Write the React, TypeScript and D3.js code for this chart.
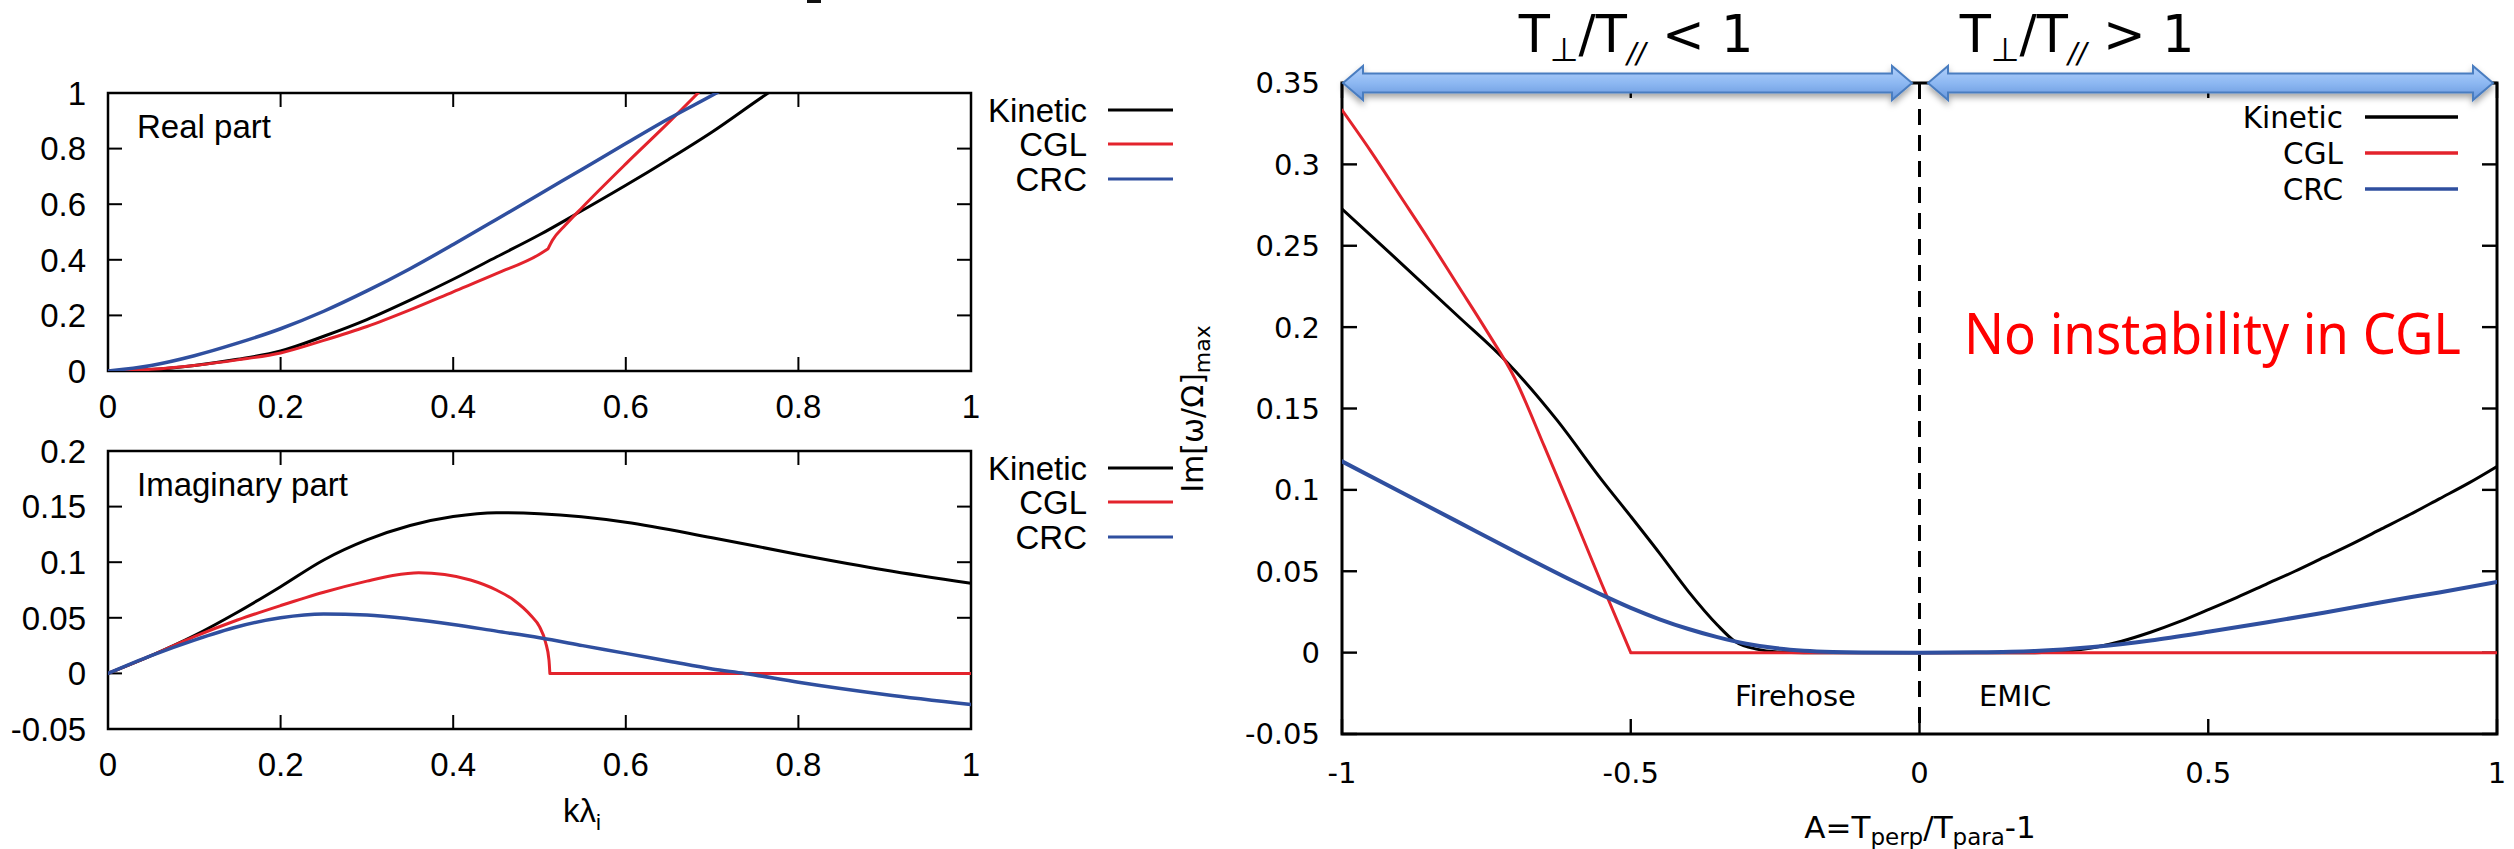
import React, { useEffect } from "react";
import * as d3 from "d3";

type Pt = [number, number];

// ---------- DATA ----------
const seriesNames = ["Kinetic", "CGL", "CRC"];
const seriesColors = ["#000000", "#e3232c", "#2f4f9f"];

const realKinetic: Pt[] = [[0,0],[0.05,0.005],[0.1,0.02],[0.15,0.042],[0.2,0.072],[0.25,0.125],[0.3,0.185],[0.35,0.255],[0.4,0.33],[0.45,0.41],[0.5,0.49],[0.55,0.578],[0.6,0.668],[0.65,0.762],[0.7,0.86],[0.765,1.0],[0.8,1.07]];
const realCGL: Pt[] = [[0,0],[0.05,0.006],[0.1,0.02],[0.15,0.04],[0.2,0.065],[0.25,0.11],[0.3,0.16],[0.35,0.22],[0.4,0.285],[0.45,0.35],[0.5,0.42],[0.51,0.44],[0.515,0.47],[0.53,0.525],[0.55,0.59],[0.6,0.745],[0.65,0.895],[0.69,1.02]];
const realCRC: Pt[] = [[0,0],[0.05,0.02],[0.1,0.055],[0.15,0.1],[0.2,0.152],[0.25,0.215],[0.3,0.288],[0.35,0.368],[0.4,0.455],[0.45,0.545],[0.5,0.636],[0.55,0.727],[0.6,0.818],[0.65,0.908],[0.705,1.0],[0.75,1.08]];

const imagKinetic: Pt[] = [[0,0],[0.05,0.016],[0.1,0.034],[0.15,0.055],[0.2,0.078],[0.25,0.102],[0.3,0.12],[0.35,0.133],[0.4,0.141],[0.45,0.1445],[0.5,0.1435],[0.6,0.136],[0.7,0.122],[0.8,0.107],[0.9,0.093],[1.0,0.081]];
const imagCGL: Pt[] = [[0,0],[0.05,0.016],[0.1,0.033],[0.15,0.048],[0.2,0.061],[0.25,0.073],[0.3,0.083],[0.33,0.088],[0.36,0.0905],[0.39,0.089],[0.42,0.084],[0.45,0.075],[0.47,0.066],[0.49,0.052],[0.5,0.042],[0.507,0.028],[0.511,0.012],[0.512,0],[1.0,0]];
const imagCRC: Pt[] = [[0,0],[0.05,0.016],[0.1,0.03],[0.15,0.042],[0.2,0.05],[0.25,0.0534],[0.3,0.0525],[0.35,0.049],[0.4,0.044],[0.45,0.038],[0.5,0.032],[0.55,0.025],[0.6,0.018],[0.65,0.011],[0.7,0.004],[0.738,0],[0.8,-0.008],[0.9,-0.019],[1.0,-0.028]];

const growthKinetic: Pt[] = [[-1,0.2726],[-0.9,0.24],[-0.8,0.207],[-0.713,0.178],[-0.628,0.143],[-0.55,0.106],[-0.5,0.0837],[-0.45,0.061],[-0.4,0.0375],[-0.35,0.017],[-0.32,0.007],[-0.28,0.002],[-0.25,0.0005],[-0.2,0],[0,0],[0.2,0],[0.25,0.0008],[0.3,0.003],[0.35,0.007],[0.4,0.0125],[0.45,0.019],[0.5,0.0264],[0.55,0.034],[0.6,0.042],[0.65,0.05],[0.7,0.0585],[0.75,0.067],[0.8,0.076],[0.85,0.085],[0.9,0.0945],[0.95,0.104],[1.0,0.1144]];
const growthCGL: Pt[] = [[-1,0.3334],[-0.95,0.308],[-0.9,0.281],[-0.85,0.254],[-0.8,0.226],[-0.75,0.198],[-0.7,0.168],[-0.65,0.127],[-0.6,0.085],[-0.55,0.042],[-0.5,0],[1.0,0]];
const growthCRC: Pt[] = [[-1,0.1175],[-0.9,0.099],[-0.8,0.0805],[-0.7,0.062],[-0.6,0.044],[-0.55,0.0355],[-0.5,0.0275],[-0.45,0.0205],[-0.4,0.0145],[-0.35,0.0095],[-0.3,0.0055],[-0.25,0.0028],[-0.2,0.0012],[-0.15,0.0004],[-0.1,0.0001],[0,0],[0.1,0.0002],[0.2,0.001],[0.3,0.0035],[0.4,0.0075],[0.5,0.0128],[0.6,0.0185],[0.7,0.0245],[0.8,0.031],[0.9,0.037],[1.0,0.0434]];

// x positions where the CGL curves have a sharp corner
const realCGLKinks = [0.51];
const imagCGLKinks = [0.512];
const growthCGLKinks = [-0.5];

const kTicks = [0, 0.2, 0.4, 0.6, 0.8, 1];
const realTicks = [0, 0.2, 0.4, 0.6, 0.8, 1];
const imagTicks = [-0.05, 0, 0.05, 0.1, 0.15, 0.2];
const aTicks = [-1, -0.5, 0, 0.5, 1];
const growthTicks = [-0.05, 0, 0.05, 0.1, 0.15, 0.2, 0.25, 0.3, 0.35];

// ---------- LAYOUT ----------
const W = 2514, H = 849;
const LFONT = "'Liberation Sans', Arial, sans-serif";
const RFONT = "'DejaVu Sans', Verdana, sans-serif";

const xLeft = d3.scaleLinear().domain([0, 1]).range([108, 971]);
const yReal = d3.scaleLinear().domain([0, 1]).range([371, 93]);
const yImag = d3.scaleLinear().domain([-0.05, 0.2]).range([729, 451]);
const xRight = d3.scaleLinear().domain([-1, 1]).range([1342, 2497]);
const yRight = d3.scaleLinear().domain([-0.05, 0.35]).range([734, 83]);

const fmt = (v: number) => String(+v.toFixed(4));

function splitAt(data: Pt[], kinks: number[]): Pt[][] {
  const parts: Pt[][] = [];
  let cur: Pt[] = [];
  data.forEach((p) => {
    cur.push(p);
    if (kinks.some((k) => Math.abs(k - p[0]) < 1e-9)) {
      parts.push(cur);
      cur = [p];
    }
  });
  if (cur.length > 1) parts.push(cur);
  return parts;
}

function Frame({ x, y, xt, yt, tick, sw, font, fs, yLabelRight, xLabelBase, clipId }: any) {
  const [x0, x1] = x.range();
  const [y0, y1] = y.range();
  return (
    <g>
      <rect x={x0} y={y1} width={x1 - x0} height={y0 - y1} fill="none" stroke="#000" strokeWidth={sw} />
      {xt.map((t: number) => (
        <g key={"x" + t}>
          <line x1={x(t)} x2={x(t)} y1={y0} y2={y0 - tick} stroke="#000" strokeWidth={sw * 0.8} />
          <line x1={x(t)} x2={x(t)} y1={y1} y2={y1 + tick} stroke="#000" strokeWidth={sw * 0.8} />
          <text x={x(t)} y={xLabelBase} textAnchor="middle" fontFamily={font} fontSize={fs}>{fmt(t)}</text>
        </g>
      ))}
      {yt.map((t: number) => (
        <g key={"y" + t}>
          <line x1={x0} x2={x0 + tick} y1={y(t)} y2={y(t)} stroke="#000" strokeWidth={sw * 0.8} />
          <line x1={x1} x2={x1 - tick} y1={y(t)} y2={y(t)} stroke="#000" strokeWidth={sw * 0.8} />
          <text x={yLabelRight} y={y(t)} dy="0.36em" textAnchor="end" fontFamily={font} fontSize={fs}>{fmt(t)}</text>
        </g>
      ))}
      <clipPath id={clipId}>
        <rect x={x0} y={y1} width={x1 - x0} height={y0 - y1} />
      </clipPath>
    </g>
  );
}

function Curves({ x, y, data, kinks, widths, clipId }: any) {
  const line = d3.line<Pt>().x((d) => x(d[0])).y((d) => y(d[1])).curve(d3.curveMonotoneX);
  return (
    <g clipPath={`url(#${clipId})`}>
      {data.map((d: Pt[], i: number) => {
        const parts = splitAt(d, kinks[i] || []);
        const dStr = parts.map((p) => line(p) || "").join(" ");
        return <path key={i} d={dStr} fill="none" stroke={seriesColors[i]} strokeWidth={widths[i]} strokeLinejoin="round" strokeLinecap="round" />;
      })}
    </g>
  );
}

function Legend({ textRight, x1, x2, ys, font, fs, sw }: any) {
  return (
    <g>
      {seriesNames.map((n, i) => (
        <g key={n}>
          <text x={textRight} y={ys[i]} dy="0.36em" textAnchor="end" fontFamily={font} fontSize={fs}>{n}</text>
          <line x1={x1} x2={x2} y1={ys[i]} y2={ys[i]} stroke={seriesColors[i]} strokeWidth={sw} />
        </g>
      ))}
    </g>
  );
}

function arrowPath(xa: number, xb: number, cy: number) {
  const hl = 20, hh = 17, sh = 9.5;
  return `M${xa},${cy} L${xa + hl},${cy - hh} L${xa + hl},${cy - sh} L${xb - hl},${cy - sh} L${xb - hl},${cy - hh} L${xb},${cy} L${xb - hl},${cy + hh} L${xb - hl},${cy + sh} L${xa + hl},${cy + sh} L${xa + hl},${cy + hh} Z`;
}

export default function App() {
  useEffect(() => {
    document.body.style.margin = "0";
  }, []);
  const lw = [3, 3, 3.5];
  const rw = [3, 3, 4];
  return (
    <svg width={W} height={H} viewBox={`0 0 ${W} ${H}`} style={{ display: "block", background: "#fff" }}>
      <defs>
        <linearGradient id="arrowGrad" x1="0" y1="0" x2="0" y2="1">
          <stop offset="0" stopColor="#b2d0fa" />
          <stop offset="0.5" stopColor="#8db8f2" />
          <stop offset="1" stopColor="#6796dc" />
        </linearGradient>
        <filter id="shadow" x="-5%" y="-50%" width="110%" height="200%">
          <feDropShadow dx="0" dy="4" stdDeviation="3" floodColor="#000" floodOpacity="0.35" />
        </filter>
      </defs>
      <rect x={0} y={0} width={W} height={H} fill="#fff" />

      {/* cut-off fragment of a title above the picture */}
      <rect x={807} y={0} width={14} height={3} fill="#111" />

      {/* ---- top-left: real part ---- */}
      <Frame x={xLeft} y={yReal} xt={kTicks} yt={realTicks} tick={14} sw={2.5} font={LFONT} fs={33} yLabelRight={86} xLabelBase={418} clipId="clipReal" />
      <Curves x={xLeft} y={yReal} data={[realKinetic, realCGL, realCRC]} kinks={[[], realCGLKinks, []]} widths={lw} clipId="clipReal" />
      <text x={137} y={138} fontFamily={LFONT} fontSize={33}>Real part</text>
      <Legend textRight={1087} x1={1108} x2={1173} ys={[110, 144, 179]} font={LFONT} fs={33} sw={3} />

      {/* ---- bottom-left: imaginary part ---- */}
      <Frame x={xLeft} y={yImag} xt={kTicks} yt={imagTicks} tick={14} sw={2.5} font={LFONT} fs={33} yLabelRight={86} xLabelBase={776} clipId="clipImag" />
      <Curves x={xLeft} y={yImag} data={[imagKinetic, imagCGL, imagCRC]} kinks={[[], imagCGLKinks, []]} widths={lw} clipId="clipImag" />
      <text x={137} y={496} fontFamily={LFONT} fontSize={33}>Imaginary part</text>
      <Legend textRight={1087} x1={1108} x2={1173} ys={[468, 502, 537]} font={LFONT} fs={33} sw={3} />
      <text x={582} y={822} textAnchor="middle" fontFamily={LFONT} fontSize={33}>
        kλ<tspan fontSize={22} dy={8}>i</tspan>
      </text>

      {/* ---- right: growth rate ---- */}
      <Frame x={xRight} y={yRight} xt={aTicks} yt={growthTicks} tick={15} sw={3} font={RFONT} fs={29} yLabelRight={1320} xLabelBase={783} clipId="clipRight" />
      <line x1={xRight(0)} x2={xRight(0)} y1={yRight(0.35)} y2={yRight(-0.05)} stroke="#000" strokeWidth={3} strokeDasharray="16,10" />
      <Curves x={xRight} y={yRight} data={[growthKinetic, growthCGL, growthCRC]} kinks={[[], growthCGLKinks, []]} widths={rw} clipId="clipRight" />
      <Legend textRight={2343} x1={2365} x2={2458} ys={[117, 153, 189]} font={RFONT} fs={29.5} sw={3.5} />
      <text x={1735} y={706} fontFamily={RFONT} fontSize={29}>Firehose</text>
      <text x={1979} y={706} fontFamily={RFONT} fontSize={29}>EMIC</text>
      <text x={1964} y={354} fontFamily="'Noto Sans', 'Open Sans', sans-serif" fontSize={57} fill="#ff0000" textLength={497} lengthAdjust="spacingAndGlyphs">No instability in CGL</text>
      <text x={1920} y={838} textAnchor="middle" fontFamily={RFONT} fontSize={31}>
        A=T<tspan fontSize={23} dy={7}>perp</tspan><tspan dy={-7}>/T</tspan><tspan fontSize={23} dy={7}>para</tspan><tspan dy={-7}>-1</tspan>
      </text>
      <text transform="translate(1203,409) rotate(-90)" textAnchor="middle" fontFamily={RFONT} fontSize={30}>
        Im[ω/Ω]<tspan fontSize={22} dy={7}>max</tspan>
      </text>

      {/* arrows */}
      <g filter="url(#shadow)">
        <path d={arrowPath(1343, 1912, 83)} fill="url(#arrowGrad)" stroke="#4a7dc0" strokeWidth={2} />
        <path d={arrowPath(1928, 2493, 83)} fill="url(#arrowGrad)" stroke="#4a7dc0" strokeWidth={2} />
      </g>

      {/* header labels */}
      <text x={1636} y={52} textAnchor="middle" fontFamily={RFONT} fontSize={51}>
        T<tspan fontSize={33} dy={9}>⊥</tspan><tspan dy={-9}>/T</tspan><tspan fontSize={28} dy={11} fontStyle="italic">//</tspan><tspan dy={-11}> &lt; 1</tspan>
      </text>
      <text x={2077} y={52} textAnchor="middle" fontFamily={RFONT} fontSize={51}>
        T<tspan fontSize={33} dy={9}>⊥</tspan><tspan dy={-9}>/T</tspan><tspan fontSize={28} dy={11} fontStyle="italic">//</tspan><tspan dy={-11}> &gt; 1</tspan>
      </text>
    </svg>
  );
}
